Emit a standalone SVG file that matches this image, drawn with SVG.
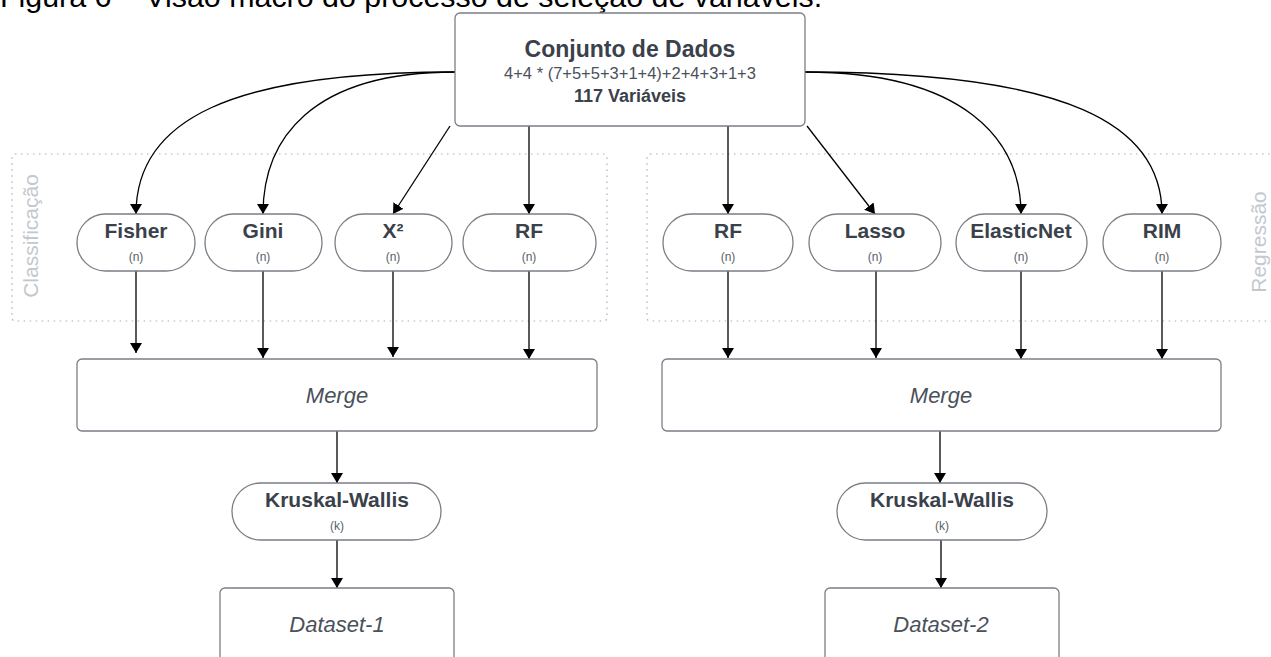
<svg xmlns="http://www.w3.org/2000/svg" width="1271" height="657" viewBox="0 0 1271 657">
<defs>
<marker id="ah" viewBox="0 0 10 12" refX="10" refY="6" markerWidth="10" markerHeight="12" markerUnits="userSpaceOnUse" orient="auto">
<path d="M0,0 L10,6 L0,12 z" fill="#000"/>
</marker>
</defs>
<style>
text{font-family:"Liberation Sans",Arial,sans-serif;fill:#3a414a;text-anchor:middle}
.node{fill:#fff;stroke:#7a7f86;stroke-width:1.3}
.grp{fill:none;stroke:#a9aeb4;stroke-width:1.2;stroke-dasharray:1.5 4.5}
.conn path,.conn line{fill:none;stroke:#000;stroke-width:1.3;marker-end:url(#ah)}
.lbl{font-weight:bold;font-size:21px}
.sub{font-size:12px;fill:#5a616b}
.it{font-style:italic;font-size:22px;fill:#4a515b}
.gl{font-size:21px;fill:#c3c8ce}
</style>
<rect width="1271" height="657" fill="#fff"/>
<text x="0" y="7" style="text-anchor:start;font-size:30.4px;fill:#000">Figura 6 – Visão macro do processo de seleção de variáveis.</text>

<g id="grp-classificacao">
<rect class="grp" x="12" y="154" width="595" height="167" rx="3"/>
<text class="gl" transform="translate(38,236) rotate(-90)">Classificação</text>
</g>
<g id="grp-regressao">
<rect class="grp" x="647" y="154" width="640" height="167" rx="3"/>
<text class="gl" transform="translate(1266,242) rotate(-90)">Regressão</text>
</g>

<g class="conn" id="connectors">
<path d="M455,72 C230,72 136,120 136,214"/>
<path d="M455,72 C310,72 263,140 263,214"/>
<line x1="450" y1="126" x2="393" y2="214"/>
<line x1="529" y1="126" x2="529" y2="214"/>
<line x1="728" y1="126" x2="728" y2="214"/>
<line x1="807" y1="126" x2="875" y2="214"/>
<path d="M805,72 C965,72 1021,140 1021,214"/>
<path d="M805,72 C1070,72 1162,125 1162,214"/>
<line x1="136" y1="271" x2="136" y2="353"/>
<line x1="263" y1="271" x2="263" y2="358"/>
<line x1="393" y1="271" x2="393" y2="357"/>
<line x1="529" y1="271" x2="529" y2="359"/>
<line x1="728" y1="271" x2="728" y2="358"/>
<line x1="876" y1="271" x2="876" y2="358"/>
<line x1="1021" y1="271" x2="1021" y2="359"/>
<line x1="1162" y1="271" x2="1162" y2="359"/>
<line x1="337" y1="431" x2="337" y2="483"/>
<line x1="940" y1="431" x2="940" y2="483"/>
<line x1="337" y1="540" x2="337" y2="588"/>
<line x1="941" y1="540" x2="941" y2="588"/>
</g>

<g id="n-dados">
<rect class="node" x="455" y="13" width="350" height="113" rx="5"/>
<text x="630" y="57" style="font-weight:bold;font-size:23px">Conjunto de Dados</text>
<text x="630" y="79" style="font-size:16.5px;fill:#4a515b">4+4 * (7+5+5+3+1+4)+2+4+3+1+3</text>
<text x="630" y="102" style="font-weight:bold;font-size:18px">117 Variáveis</text>
</g>

<g id="n-fisher">
<rect class="node" x="77" y="214" width="118" height="57" rx="28.5"/>
<text class="lbl" x="136" y="238">Fisher</text>
<text class="sub" x="136" y="261">(n)</text>
</g>
<g id="n-gini">
<rect class="node" x="205" y="214" width="117" height="57" rx="28.5"/>
<text class="lbl" x="263" y="238">Gini</text>
<text class="sub" x="263" y="261">(n)</text>
</g>
<g id="n-x2">
<rect class="node" x="335" y="214" width="117" height="57" rx="28.5"/>
<text class="lbl" x="393" y="238">X²</text>
<text class="sub" x="393" y="261">(n)</text>
</g>
<g id="n-rf1">
<rect class="node" x="463" y="214" width="133" height="57" rx="28.5"/>
<text class="lbl" x="529" y="238">RF</text>
<text class="sub" x="529" y="261">(n)</text>
</g>
<g id="n-rf2">
<rect class="node" x="663" y="214" width="130" height="57" rx="28.5"/>
<text class="lbl" x="728" y="238">RF</text>
<text class="sub" x="728" y="261">(n)</text>
</g>
<g id="n-lasso">
<rect class="node" x="809" y="214" width="132" height="57" rx="28.5"/>
<text class="lbl" x="875" y="238">Lasso</text>
<text class="sub" x="875" y="261">(n)</text>
</g>
<g id="n-elastic">
<rect class="node" x="956" y="214" width="131" height="57" rx="28.5"/>
<text class="lbl" x="1021" y="238">ElasticNet</text>
<text class="sub" x="1021" y="261">(n)</text>
</g>
<g id="n-rim">
<rect class="node" x="1103" y="214" width="118" height="57" rx="28.5"/>
<text class="lbl" x="1162" y="238">RIM</text>
<text class="sub" x="1162" y="261">(n)</text>
</g>

<g id="n-merge1">
<rect class="node" x="77" y="359" width="520" height="72" rx="5"/>
<text class="it" x="337" y="403">Merge</text>
</g>
<g id="n-merge2">
<rect class="node" x="662" y="359" width="559" height="72" rx="5"/>
<text class="it" x="941" y="403">Merge</text>
</g>

<g id="n-kw1">
<rect class="node" x="232" y="483" width="209" height="57" rx="28.5"/>
<text class="lbl" x="337" y="507">Kruskal-Wallis</text>
<text class="sub" x="337" y="530">(k)</text>
</g>
<g id="n-kw2">
<rect class="node" x="837" y="483" width="210" height="57" rx="28.5"/>
<text class="lbl" x="942" y="507">Kruskal-Wallis</text>
<text class="sub" x="942" y="530">(k)</text>
</g>

<g id="n-ds1">
<rect class="node" x="220" y="588" width="234" height="90" rx="5"/>
<text class="it" x="337" y="632">Dataset-1</text>
</g>
<g id="n-ds2">
<rect class="node" x="825" y="588" width="234" height="90" rx="5"/>
<text class="it" x="941" y="632">Dataset-2</text>
</g>
</svg>
